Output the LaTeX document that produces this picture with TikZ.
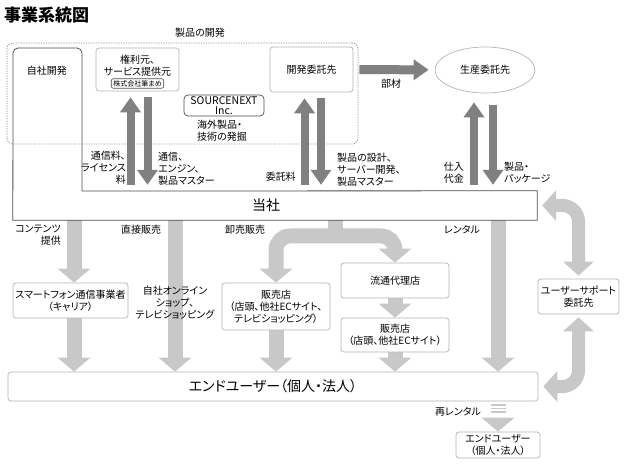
\documentclass[tikz,border=0pt]{standalone}
\usepackage{fontspec}
\setmainfont{Noto Sans CJK JP}[RawFeature=+palt]
\usepackage{tikz}
\usetikzlibrary{arrows.meta}
\usetikzlibrary{shapes.geometric}
\usetikzlibrary{backgrounds}
\definecolor{boxline}{HTML}{b4b4b4}
\definecolor{darkline}{HTML}{4d4d4d}
\definecolor{arrowdark}{HTML}{808080}
\definecolor{arrowlite}{HTML}{c8c8c8}
\definecolor{frameline}{HTML}{8c8c8c}

\begin{document}
\begin{tikzpicture}[x=1pt, y=-1pt,
every node/.style = {font=\fontsize{10}{12}\selectfont, align=center, inner sep=0pt, text=black},
box/.style = {draw=boxline, line width=0.7pt, rounded corners=3pt, fill=white},
tag/.style = {draw=darkline, line width=0.6pt, rounded corners=2pt,
  font=\fontsize{7}{8}\selectfont, inner xsep=2pt, inner ysep=1.5pt},
darr/.style = {-{Triangle[width=20pt,length=15pt]}, line width=8pt, draw=arrowdark,
  shorten >=6pt, shorten <=6pt},
larr/.style = {-{Triangle[width=32pt,length=14pt]}, line width=15pt, draw=arrowlite},
sarr/.style = {{Triangle[width=30pt,length=14pt]}-{Triangle[width=30pt,length=14pt]},
  line width=13pt, draw=arrowlite, rounded corners=16pt, shorten <=3pt, shorten >=5pt},
big/.style = {font=\fontsize{14}{16}\selectfont}
]
\useasboundingbox (0,0) rectangle (624,465);

\node (title) [anchor=west, font=\fontsize{17}{20}\selectfont\bfseries] at (4,15) {事業系統図};
\node (devtitle) at (200,33) {製品の開発};

\node (jisha) at (47,71) {自社開発};
\node (kenri) [box, minimum width=83pt, minimum height=43pt] at (137.5,69.5) {};
\node (kenritext) at (137.5,66) {権利元、\\サービス提供元};
\node (fudemame) [tag] at (137.5,83.5) {株式会社筆まめ};
\node (sn) [box, draw=darkline, rounded corners=4pt, minimum width=80pt, minimum height=21pt,
  font=\fontsize{10.5}{10}\selectfont] at (224,105.5) {SOURCENEXT\\Inc.};
\node (kaigai) [anchor=west, align=left] at (197,131) {海外製品・\\技術の発掘};
\node (kaihatsu) [box, minimum width=83pt, minimum height=45pt] at (311.5,69.5) {開発委託先};
\node (seisan) [box, ellipse, sharp corners, minimum width=100pt, minimum height=46pt] at (485,70) {生産委託先};

\node (tosha) [minimum width=524pt, minimum height=29pt] at (275,205.5) {};
\node (toshatext) [big] at (266,205) {当社};
\draw[darkline, line width=0.8pt] (82,191) -- (tosha.north east) -- (tosha.south east)
  -- (tosha.south west) -- (13,100) [rounded corners=5pt] -- (13,48) -- (82,48) -- (82,100)
  [sharp corners] -- (82,191);

\node (lblA) [anchor=east, align=right] at (126,168) {通信料、\\ライセンス\\料};
\node (lblB) [anchor=west, align=left] at (158,169) {通信、\\エンジン、\\製品マスター};
\node (lblC) [anchor=east] at (296,177) {委託料};
\node (lblD) [anchor=west, align=left] at (337,170) {製品の設計、\\サーバー開発、\\製品マスター};
\node (lblE) at (391,84) {部材};
\node (lblF) [anchor=east, align=left] at (464,173) {仕入\\代金};
\node (lblG) [anchor=west, align=left] at (504,173) {製品・\\パッケージ};

\node (carrier) [box, minimum width=115pt, minimum height=35pt] at (70.5,300.5) {スマートフォン通信事業者\\（キャリア）};
\node (shop) at (175,303) {自社オンライン\\ショップ、\\テレビショッピング};
\node (shopA) [box, minimum width=108pt, minimum height=47pt] at (276,306.5) {販売店\\（店頭、他社ECサイト、\\テレビショッピング）};
\node (agent) [box, minimum width=108pt, minimum height=35pt] at (395,280.5) {流通代理店};
\node (shopB) [box, minimum width=108pt, minimum height=34pt] at (395,335) {販売店\\（店頭、他社ECサイト）};
\node (support) [box, minimum width=81pt, minimum height=35pt] at (578.5,296.5) {ユーザーサポート\\委託先};
\node (user) [box, big, minimum width=530pt, minimum height=29pt] at (273,386.5) {エンドユーザー（個人・法人）};
\node (user2) [box, minimum width=84pt, minimum height=26pt] at (498,445) {エンドユーザー\\（個人・法人）};

\node (lblH) [anchor=east, align=right] at (61,235) {コンテンツ\\提供};
\node (lblI) at (141,230) {直接販売};
\node (lblJ) at (245,230) {卸売販売};
\node (lblK) at (462,230) {レンタル};
\node (lblL) at (458,412) {再レンタル};

\coordinate (k1) at ([xshift=-7pt]kenri.south);
\coordinate (k2) at ([xshift=10pt]kenri.south);
\coordinate (d1) at ([xshift=-7pt]kaihatsu.south);
\coordinate (d2) at ([xshift=9.5pt]kaihatsu.south);
\coordinate (p1) at ([xshift=-11pt]seisan.south);
\coordinate (p2) at ([xshift=8pt]seisan.south);
\coordinate (c1) at ([xshift=3.5pt]carrier.north);
\coordinate (split) at (335,236);

\begin{scope}[on background layer]
\node (devarea) [draw=frameline, line width=0.7pt, dash pattern=on 1.2pt off 1.3pt,
  rounded corners=6pt, minimum width=351pt, minimum height=101pt] at (182.5,93.5) {};

\draw[darr] (k1 |- tosha.north) -- (k1);
\draw[darr] (k2) -- (k2 |- tosha.north);
\draw[darr] (d1 |- tosha.north) -- (d1);
\draw[darr] (d2) -- (d2 |- tosha.north);
\draw[darr, shorten >=9pt] (p1 |- tosha.north) -- (p1);
\draw[darr, shorten <=12pt] (p2) -- (p2 |- tosha.north);
\draw[darr, line width=9pt] (kaihatsu) -- (seisan);

\draw[larr] (c1 |- tosha.south) -- (c1);
\draw[larr] (c1 |- carrier.south) -- (c1 |- user.north);
\draw[larr] (shop |- tosha.south) -- (shop |- user.north);
\draw[line width=15pt, arrowlite] (split |- tosha.south) -- (split);
\draw[larr, rounded corners=14pt] (split) -| (shopA.north);
\draw[larr, rounded corners=14pt] (split) -| (agent.north);
\draw[larr] (shopA.south) -- (shopA.south |- user.north);
\draw[larr] (agent.south) -- (shopB.north);
\draw[larr] (shopB.south) -- (shopB.south |- user.north);
\draw[larr] (user2 |- tosha.south) -- (user2 |- user.north);
\draw[sarr] (support.north) |- (tosha.east);
\draw[sarr] (support.south) |- (user.east);
\draw[larr, dash pattern=on 1.5pt off 2pt on 1.5pt off 2pt on 1.5pt off 30pt, shorten <=3pt]
  (user2 |- user.south) -- (user2.north);
\end{scope}
\end{tikzpicture}
\end{document}
